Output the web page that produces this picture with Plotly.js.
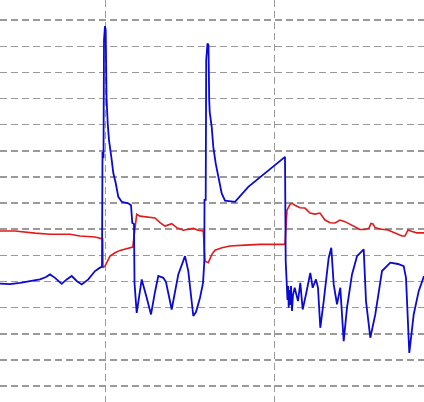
<!DOCTYPE html>
<html>
<head>
<meta charset="utf-8">
<script src="https://cdn.plot.ly/plotly-3.0.1.min.js"></script>
<style>html,body{margin:0;padding:0;background:#fff;}#chart{width:424px;height:402px;}</style>
</head>
<body>
<div id="chart"></div>
<script>
// sample index (time) and amplitude (grid units)
const redT = [0,15,35,50,70,80,95,102.7,103,105,110,115,120,126.7,132.7,133.5,136.7,140,145,150,155,160,165,171.7,176.7,183.3,188.3,193.3,198.3,203.3,205,208.3,212,215,222,230,245,260,285,285.7,287,290,292,295,300,305,310,315,320,325,330,335,340,345,350,355,360,365,369,371,373,375,380,388,395,402,405,408,412,417,424];
const redV = [5.93,5.93,5.85,5.81,5.81,5.74,5.70,5.63,4.53,4.59,4.97,5.10,5.19,5.27,5.32,5.55,6.57,6.50,6.47,6.44,6.43,6.25,6.12,6.21,6.06,5.96,5.99,6.03,5.96,5.93,4.78,4.72,5.05,5.20,5.29,5.36,5.39,5.42,5.42,5.97,6.73,6.95,6.99,6.92,6.82,6.81,6.62,6.58,6.62,6.35,6.25,6.24,6.35,6.29,6.20,6.09,5.99,5.99,6.04,6.22,6.20,6.07,6.01,5.97,5.85,5.74,5.74,5.97,5.91,5.86,5.86];

const blueT = [0,10,20,30,40,46,50,55,58,61.7,66.7,71.7,76.7,81.7,88.3,95,100,102,102.5,103.5,104,105,105.7,106.5,107.7,109,111.7,113.3,115.7,118.3,121.7,128.3,131,132.3,134,134.5,136.7,138.5,141.7,146.7,151,155,158.3,163.3,166,171.7,175,178.3,185,188.3,193.3,196,200,203,204.3,204.5,205.7,206.2,207.5,208.5,209.2,209.7,211.7,213.3,215.7,218.3,221.7,225,230,235,248.3,265,275,285,285.7,286.5,287.5,288.2,288.7,289.5,290.3,291,292,293,294.7,296.5,298,300.3,302.7,306,308,310.3,312.7,316,318,320.3,323.7,327,328.7,331.3,333.7,337,340.3,343.7,347,352,357,363.7,366,370.3,375.3,382,390.3,398,403.7,406,409.3,413.7,418.7,424];
const blueV = [3.92,3.90,3.95,4.02,4.08,4.17,4.27,4.14,4.02,3.91,4.08,4.21,4.02,3.89,4.08,4.40,4.53,4.56,8.95,8.72,13.24,13.77,13.62,11.07,10.06,9.41,8.65,8.15,7.77,7.24,7.05,6.99,6.92,6.24,6.20,3.94,2.80,3.29,4.08,3.38,2.74,3.60,4.21,4.14,3.98,2.93,3.60,4.27,4.97,4.40,2.68,2.83,3.38,3.94,4.74,7.12,7.12,12.47,13.11,13.05,10.94,10.49,9.92,9.15,8.52,8.01,7.37,7.09,7.06,7.05,7.62,8.14,8.45,8.77,4.78,3.76,3.29,3.83,3.00,3.67,3.10,3.83,2.87,3.48,3.76,3.48,3.25,3.95,2.93,3.51,3.94,4.33,3.76,4.08,3.76,2.23,3.25,4.25,4.91,5.29,3.89,3.13,3.76,1.72,3.00,4.27,4.97,5.23,3.25,1.85,2.74,4.40,4.72,4.67,4.59,4.14,1.27,2.74,3.63,4.21];

const traces = [
  {x: redT, y: redV, type: 'scatter', mode: 'lines', line: {color: '#e31a1a', width: 1.6}, hoverinfo: 'skip'},
  {x: blueT, y: blueV, type: 'scatter', mode: 'lines', line: {color: '#0a0ad2', width: 1.8}, hoverinfo: 'skip'}
];

const layout = {
  width: 424, height: 402,
  margin: {l: 0, r: 0, t: 0, b: 0, pad: 0},
  paper_bgcolor: '#ffffff', plot_bgcolor: '#ffffff',
  showlegend: false,
  xaxis: {
    range: [0, 424], tick0: 105.3, dtick: 169.4, showticklabels: false, ticks: '',
    showgrid: true, gridcolor: '#9a9a9a', gridwidth: 1.5, griddash: '7px,4px',
    zeroline: false, showline: false, fixedrange: true
  },
  yaxis: {
    range: [-0.61, 14.77], tick0: 0, dtick: 1, showticklabels: false, ticks: '',
    showgrid: true, gridcolor: '#9a9a9a', gridwidth: 1.5, griddash: '7px,4px',
    zeroline: false, showline: false, fixedrange: true
  }
};

Plotly.newPlot('chart', traces, layout, {staticPlot: true, displayModeBar: false});
</script>
</body>
</html>
